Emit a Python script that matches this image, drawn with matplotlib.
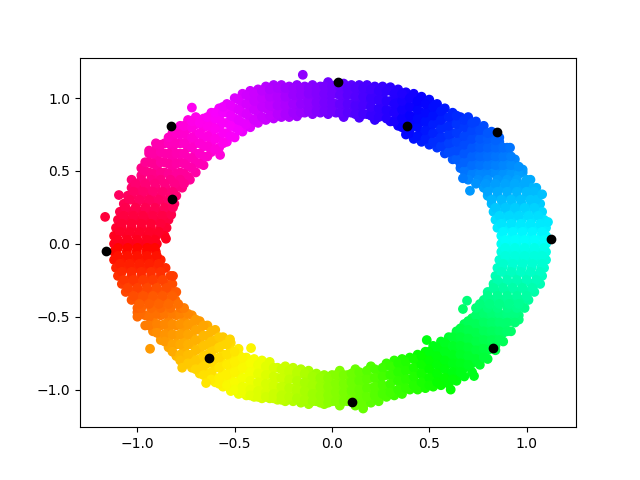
import numpy as np
import matplotlib
matplotlib.use('Agg')
import matplotlib.pyplot as plt

# upper half of the ring, read column by column
top_x = [-0.98, -0.94, -0.90, -0.86, -0.82, -0.78, -0.74, -0.70, -0.66, -0.62, -0.58, -0.54, -0.50,
         -0.46, -0.42, -0.38, -0.34, -0.30, -0.26, -0.22, -0.18, -0.14, -0.10, -0.06, -0.02,
         0.02, 0.06, 0.10, 0.14, 0.18, 0.22, 0.26, 0.30, 0.34, 0.38, 0.42, 0.46, 0.50,
         0.54, 0.58, 0.62, 0.66, 0.70, 0.74, 0.78, 0.82, 0.86, 0.90, 0.94, 0.98]
top_y = [[.47, .52], [.49, .56, .62], [.46, .53, .59, .66], [.49, .56, .62, .69],
         [.46, .53, .59, .66, .72, .76], [.49, .56, .62, .69, .75, .81],
         [.46, .53, .59, .66, .72, .79, .85], [.49, .56, .62, .69, .75, .82, .87],
         [.54, .60, .67, .73, .80, .86], [.63, .70, .76, .83, .90],
         [.66, .73, .80, .86, .93], [.70, .76, .83, .90, .96],
         [.73, .80, .86, .93, 1.00], [.77, .83, .90, .96, 1.03], [.80, .86, .93, .99, 1.05],
         [.83, .90, .96, 1.02, 1.06], [.85, .93, .99, 1.05, 1.08], [.86, .90, .96, 1.02, 1.09],
         [.87, .93, .99, 1.05, 1.09], [.87, .90, .96, 1.02, 1.08], [.875, .93, .99, 1.05, 1.09],
         [.90, .96, 1.02, 1.08], [.89, .93, .99, 1.05, 1.09], [.90, .96, 1.02, 1.08],
         [.89, .93, .99, 1.05, 1.11], [.90, .96, 1.03, 1.09], [.87, .93, 1.00, 1.06, 1.10],
         [.90, .96, 1.03, 1.09], [.865, .93, .99, 1.06, 1.09], [.89, .96, 1.02, 1.09],
         [.85, .92, .99, 1.05, 1.08], [.88, .95, 1.02, 1.08], [.84, .91, .98, 1.05, 1.075],
         [.81, .87, .94, 1.01, 1.06], [.75, .78, .84, .91, .97, 1.04],
         [.72, .81, .87, .94, 1.00, 1.03], [.70, .76, .84, .90, .97, 1.01],
         [.68, .73, .80, .87, .93, .99], [.66, .70, .76, .83, .90, .96],
         [.62, .67, .73, .80, .87, .93], [.58, .64, .70, .76, .83, .90],
         [.52, .55, .61, .67, .73, .80, .87], [.46, .52, .58, .64, .70, .77, .83, .87],
         [.49, .55, .61, .67, .74, .80, .84], [.46, .52, .58, .64, .70, .77, .81],
         [.49, .55, .61, .67, .73, .77], [.46, .52, .58, .64, .70, .73], [.49, .55, .61, .66],
         [.46, .52, .58], [.49, .51]]
top2_x = [-.96, -.92, -.88, -.84, -.80, -.76, -.72, -.68, -.64, -.60, -.56, -.52, -.48, -.44, -.40, -.36,
          -.32, -.28, -.24, -.20, -.16, -.12, -.08, -.04, 0.0, .04, .08, .12, .16, .20, .24, .28, .32, .36,
          .40, .44, .48, .52, .56, .60, .64, .68, .72, .76, .80, .84, .88, .92, .96]
top2_y = [[.50, .56], [.48, .55, .62], [.49, .56, .63, .68], [.48, .55, .62, .69, .73], [.48, .55, .62, .69, .76],
          [.48, .55, .62, .69, .76, .81], [.52, .59, .66, .73, .80, .84], [.55, .62, .69, .76, .83],
          [.60, .67, .74, .81, .87], [.65, .72, .79, .86, .90], [.69, .76, .83, .90, .94], [.74, .81, .88, .95],
          [.78, .85, .92, .99], [.82, .89, .96, 1.02], [.85, .92, .98, 1.03], [.87, .94, 1.00, 1.05],
          [.88, .95, 1.01, 1.06], [.89, .95, 1.01, 1.07], [.89, .95, 1.01, 1.07], [.90, .96, 1.02, 1.07],
          [.90, .96, 1.02, 1.07], [.91, .97, 1.03, 1.07], [.91, .97, 1.03, 1.07], [.91, .97, 1.03, 1.08],
          [.91, .97, 1.03, 1.08], [.90, .96, 1.02, 1.08], [.90, .96, 1.02, 1.07], [.89, .95, 1.01, 1.07],
          [.89, .95, 1.01, 1.07], [.88, .94, 1.00, 1.06], [.87, .93, .99, 1.05], [.86, .92, .98, 1.05],
          [.84, .90, .96, 1.03], [.80, .86, .92, .98, 1.03], [.76, .82, .88, .94, 1.00], [.74, .80, .86, .92, .98],
          [.72, .78, .84, .90, .96], [.70, .76, .82, .88, .94], [.67, .73, .79, .85, .91], [.63, .69, .75, .81, .87],
          [.58, .64, .70, .76, .82, .88], [.50, .56, .62, .68, .74, .80, .85], [.48, .54, .60, .66, .72, .78, .83],
          [.48, .54, .60, .66, .72, .78], [.48, .54, .60, .66, .72, .76], [.48, .54, .60, .66, .71],
          [.48, .54, .60, .66], [.48, .54, .60], [.48, .53]]

# lower half of the ring
bottom_x = [-1.00, -0.96, -0.92, -0.88, -0.84, -0.80, -0.76, -0.72, -0.68, -0.64, -0.60, -0.56, -0.52,
            -0.48, -0.44, -0.40, -0.36, -0.32, -0.28, -0.24, -0.20, -0.16, -0.12, -0.08, -0.04,
            0.00, 0.04, 0.08, 0.12, 0.16, 0.20, 0.24, 0.28, 0.32, 0.36, 0.40, 0.44, 0.48,
            0.52, 0.56, 0.60, 0.64, 0.68, 0.72, 0.76, 0.80, 0.84, 0.88, 0.92, 0.96]
bottom_y = [[-.47, -.50], [-.49, -.56], [-.46, -.53, -.60], [-.49, -.56, -.63, -.66],
            [-.46, -.53, -.59, -.66, -.71], [-.49, -.56, -.63, -.69, -.77],
            [-.46, -.53, -.59, -.66, -.72, -.79, -.82], [-.49, -.56, -.63, -.69, -.76, -.82, -.85],
            [-.53, -.59, -.66, -.72, -.79, -.85, -.89], [-.56, -.63, -.69, -.76, -.82, -.89, -.93],
            [-.59, -.66, -.72, -.79, -.85, -.92, -.95], [-.64, -.69, -.76, -.82, -.89, -.95, -.98],
            [-.68, -.73, -.79, -.86, -.92, -.98, -1.01], [-.72, -.76, -.83, -.89, -.95, -1.03],
            [-.78, -.80, -.86, -.92, -.99, -1.04], [-.79, -.83, -.89, -.96, -1.02, -1.05],
            [-.80, -.86, -.92, -.99, -1.06], [-.81, -.89, -.96, -1.02, -1.06],
            [-.85, -.92, -.99, -1.05, -1.07], [-.84, -.89, -.96, -1.02, -1.08],
            [-.85, -.92, -.99, -1.05, -1.08], [-.86, -.89, -.96, -1.02, -1.09],
            [-.87, -.92, -.99, -1.05, -1.10], [-.89, -.96, -1.02, -1.08],
            [-.90, -.93, -.99, -1.05, -1.10], [-.90, -.96, -1.02, -1.08], [-.87, -.93, -.99, -1.05, -1.11],
            [-.90, -.96, -1.02, -1.08], [-.86, -.93, -.99, -1.05, -1.11], [-.89, -.96, -1.02, -1.08, -1.11],
            [-.84, -.92, -.99, -1.05, -1.09], [-.87, -.95, -1.02, -1.08], [-.82, -.90, -.98, -1.05],
            [-.80, -.86, -.93, -1.01, -1.04], [-.79, -.83, -.90, -.97, -1.03], [-.78, -.86, -.93, -1.00],
            [-.76, -.82, -.89, -.96, -1.00], [-.74, -.79, -.85, -.92, -.99],
            [-.70, -.76, -.82, -.89, -.95, -.98], [-.67, -.73, -.79, -.85, -.92, -.97],
            [-.64, -.70, -.76, -.82, -.89, -.96], [-.60, -.67, -.73, -.79, -.85, -.92, -.94],
            [-.55, -.61, -.67, -.73, -.79, -.85, -.91], [-.51, -.58, -.64, -.70, -.76, -.82, -.88],
            [-.46, -.52, -.58, -.64, -.70, -.76, -.83], [-.49, -.55, -.61, -.67, -.73, -.79],
            [-.46, -.52, -.58, -.64, -.70, -.73], [-.49, -.55, -.61, -.67], [-.46, -.52, -.60], [-.49, -.52]]
bottom2_x = [-.98, -.94, -.90, -.86, -.82, -.78, -.74, -.70, -.66, -.62, -.58, -.54, -.50, -.46, -.42, -.38,
             -.34, -.30, -.26, -.22, -.18, -.14, -.10, -.06, -.02, .02, .06, .10, .14, .18, .22, .26, .30, .34,
             .38, .42, .46, .50, .54, .58, .62, .66, .70, .74, .78, .82, .86, .90, .94]
bottom2_y = [[-.48], [-.50, -.56], [-.48, -.55, -.61], [-.48, -.55, -.62, -.67], [-.48, -.55, -.62, -.69, -.74],
             [-.48, -.55, -.62, -.69, -.76, -.80], [-.48, -.55, -.62, -.69, -.76, -.82], [-.52, -.59, -.66, -.73, -.80, -.86],
             [-.56, -.63, -.70, -.77, -.84, -.90], [-.60, -.67, -.74, -.81, -.88, -.93], [-.64, -.71, -.78, -.85, -.92, -.96],
             [-.69, -.76, -.83, -.90, -.97], [-.74, -.81, -.88, -.95, -1.00], [-.78, -.85, -.92, -.98, -1.02],
             [-.82, -.88, -.94, -1.00, -1.04], [-.83, -.89, -.95, -1.01, -1.05], [-.84, -.90, -.96, -1.02, -1.05],
             [-.85, -.91, -.97, -1.03, -1.06], [-.86, -.92, -.98, -1.04, -1.07], [-.87, -.93, -.99, -1.05],
             [-.88, -.94, -1.00, -1.06], [-.89, -.95, -1.01, -1.07], [-.91, -.97, -1.03, -1.08], [-.92, -.98, -1.04, -1.09],
             [-.92, -.98, -1.04, -1.09], [-.90, -.96, -1.02, -1.08], [-.90, -.96, -1.02, -1.08], [-.89, -.95, -1.01, -1.07],
             [-.88, -.94, -1.00, -1.06], [-.87, -.93, -.99, -1.05], [-.86, -.92, -.98, -1.04], [-.85, -.91, -.97, -1.03],
             [-.84, -.90, -.96, -1.02], [-.82, -.88, -.94, -1.00], [-.81, -.87, -.93, -.99], [-.79, -.85, -.91, -.97],
             [-.77, -.83, -.89, -.95], [-.74, -.80, -.86, -.92, -.97], [-.71, -.77, -.83, -.89, -.95],
             [-.68, -.74, -.80, -.86, -.92], [-.64, -.70, -.76, -.82, -.88, -.93], [-.58, -.64, -.70, -.76, -.82, -.88],
             [-.53, -.59, -.65, -.71, -.77, -.83], [-.49, -.55, -.61, -.67, -.73, -.79], [-.48, -.54, -.60, -.66, -.72, -.78],
             [-.48, -.54, -.60, -.66, -.72], [-.48, -.54, -.60, -.66], [-.48, -.54, -.60], [-.48, -.54]]

# sides of the ring, read row by row
side_y = [.44, .385, .33, .275, .22, .165, .11, .055, 0.0, -.055, -.11, -.165, -.22, -.275, -.33, -.385, -.44]
left_x = [[-1.03, -.98, -.93, -.88, -.83, -.78, -.73],
          [-1.03, -1.0, -.955, -.905, -.855, -.805, -.77],
          [-1.05, -1.03, -.98, -.93, -.88, -.83, -.80],
          [-1.07, -1.005, -.955, -.905, -.855, -.81],
          [-1.09, -1.03, -.98, -.93, -.88, -.83],
          [-1.10, -1.055, -1.005, -.955, -.905, -.855, -.84],
          [-1.11, -1.08, -1.03, -.98, -.93, -.88, -.85],
          [-1.12, -1.055, -1.005, -.955, -.905, -.86],
          [-1.12, -1.08, -1.03, -.98, -.93, -.90],
          [-1.12, -1.055, -1.005, -.955, -.905],
          [-1.12, -1.08, -1.03, -.98, -.93, -.88],
          [-1.11, -1.055, -1.005, -.955, -.905, -.855],
          [-1.10, -1.03, -.98, -.93, -.88, -.83],
          [-1.08, -1.05, -1.005, -.955, -.905, -.855, -.82],
          [-1.06, -1.03, -.98, -.93, -.88, -.83, -.80],
          [-1.03, -1.0, -.955, -.905, -.855, -.805],
          [-1.00, -.98, -.93, -.88, -.83, -.78, -.76]]
right_x = [[.70, .75, .80, .85, .90, .95, 1.00, 1.02],
           [.78, .825, .875, .925, .975, 1.025, 1.05],
           [.80, .85, .90, .95, 1.00, 1.06],
           [.82, .875, .925, .975, 1.025, 1.07],
           [.83, .85, .90, .95, 1.00, 1.05, 1.08],
           [.84, .875, .925, .975, 1.025, 1.075, 1.09],
           [.85, .90, .95, 1.00, 1.05, 1.10],
           [.87, .925, .975, 1.025, 1.075, 1.10],
           [.87, .90, .95, 1.00, 1.05, 1.10],
           [.87, .925, .975, 1.025, 1.075, 1.10],
           [.86, .90, .95, 1.00, 1.05, 1.10],
           [.85, .875, .925, .975, 1.025, 1.075, 1.09],
           [.84, .90, .95, 1.00, 1.05, 1.08],
           [.83, .875, .925, .975, 1.025, 1.07],
           [.80, .85, .90, .95, 1.00, 1.04],
           [.78, .825, .875, .925, .975, 1.01],
           [.74, .80, .85, .90, .95, .99]]
side2_y = [.4125, .3575, .3025, .2475, .1925, .1375, .0825, .0275, -.0275, -.0825, -.1375, -.1925, -.2475, -.3025, -.3575, -.4125]
left2_x = [[-1.01, -.96, -.91, -.86, -.81, -.76], [-1.02, -.97, -.92, -.87, -.82], [-1.04, -.99, -.94, -.89, -.84],
           [-1.06, -1.01, -.96, -.91, -.86], [-1.07, -1.02, -.97, -.92, -.87], [-1.08, -1.03, -.98, -.93, -.88],
           [-1.09, -1.04, -.99, -.94, -.89], [-1.10, -1.05, -1.00, -.95, -.91], [-1.10, -1.05, -1.00, -.95, -.91],
           [-1.10, -1.05, -1.00, -.95, -.90], [-1.09, -1.04, -.99, -.94, -.89], [-1.08, -1.03, -.98, -.93, -.88],
           [-1.07, -1.02, -.97, -.92, -.87], [-1.05, -1.00, -.95, -.90, -.85], [-1.02, -.97, -.92, -.87, -.82],
           [-.99, -.94, -.89, -.84, -.79]]
right2_x = [[.74, .79, .84, .89, .94, .99], [.80, .85, .90, .95, 1.00, 1.04], [.82, .87, .92, .97, 1.02, 1.05],
            [.84, .89, .94, .99, 1.04], [.86, .91, .96, 1.01, 1.06], [.87, .92, .97, 1.02, 1.07],
            [.88, .93, .98, 1.03, 1.08], [.89, .94, .99, 1.04, 1.09], [.89, .94, .99, 1.04, 1.09],
            [.89, .94, .99, 1.04, 1.08], [.88, .93, .98, 1.03, 1.08], [.87, .92, .97, 1.02, 1.07],
            [.85, .90, .95, 1.00, 1.05], [.83, .88, .93, .98, 1.03], [.80, .85, .90, .95, 1.00],
            [.76, .81, .86, .91, .96]]

# stray points around the ring
stray_x = [-.15, -.72, -.905, -.94, -1.095, -1.166, -.575, -.853, -.826, -.817, .915, .709, .673, 1.11, 1.08,
           -.935, -.416, -.77, -.817, -.524, -.647, .487, .694, .673, .61, .73, .16]
stray_y = [1.16, .935, .69, .64, .335, .185, .61, .035, .2, .25, .66, .364, .45, .15, .34,
           -.72, -.715, -.85, -.22, -.655, -.955, -.66, -.39, -.447, -1.0, -.907, -1.13]

# black points
black_x = [.03, .385, .85, 1.125, .83, .105, -.63, -1.16, -.82, -.825]
black_y = [1.11, .81, .77, .03, -.715, -1.085, -.785, -.05, .31, .81]

x = []
y = []
for col, vals in zip(top_x + top2_x + bottom_x + bottom2_x, top_y + top2_y + bottom_y + bottom2_y):
    for v in vals:
        x.append(col)
        y.append(v)
for row, left, right in zip(side_y + side2_y, left_x + left2_x, right_x + right2_x):
    for v in left + right:
        x.append(v)
        y.append(row)
x = np.array(x + stray_x)
y = np.array(y + stray_y)

plt.figure(figsize=(6.4, 4.8), dpi=100)
plt.scatter(x, y, c=np.arctan2(y, x), cmap='hsv', vmin=-np.pi, vmax=np.pi)
plt.scatter(black_x, black_y, c='k')
plt.xlim(-1.295, 1.254)
plt.ylim(-1.258, 1.278)
plt.savefig('out.png', dpi=100)
